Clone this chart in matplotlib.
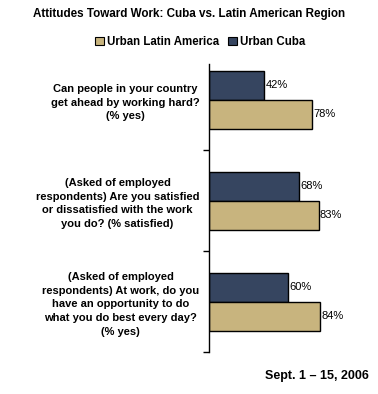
import matplotlib
matplotlib.use('Agg')
from matplotlib import pyplot as plt
from matplotlib.patches import Patch

plt.rcParams['font.family'] = ['Liberation Sans', 'DejaVu Sans']

questions = [
    'Can people in your country\nget ahead by working hard?\n(% yes)',
    '(Asked of employed\nrespondents) Are you satisfied\nor dissatisfied with the work\nyou do? (% satisfied)',
    '(Asked of employed\nrespondents) At work, do you\nhave an opportunity to do\nwhat you do best every day?\n(% yes)',
]
cuba = [42, 68, 60]
latin = [78, 83, 84]

cuba_color = '#364560'
latin_color = '#C8B47E'

fig = plt.figure(figsize=(3.78, 3.94), dpi=100)
ax = fig.add_axes([209 / 378, 1 - 352 / 394, 132 / 378, (352 - 64) / 394])

pos = list(range(len(questions)))
h = 0.287
ax.barh([p - h / 2 for p in pos], cuba, height=h, color=cuba_color,
        edgecolor='black', linewidth=1)
ax.barh([p + h / 2 for p in pos], latin, height=h, color=latin_color,
        edgecolor='black', linewidth=1)

for p, c, l in zip(pos, cuba, latin):
    ax.text(c + 1, p - h / 2, '{}%'.format(c), va='center', ha='left', fontsize=8)
    ax.text(l + 1, p + h / 2, '{}%'.format(l), va='center', ha='left', fontsize=8)

ax.set_xlim(0, 100)
ax.set_ylim(2.5, -0.356)
ax.set_xticks([])
ax.set_yticks(pos)
ax.set_yticklabels(questions, fontsize=8, fontweight='bold',
                   multialignment='center', linespacing=1.45)
ax.tick_params(axis='y', which='major', length=0, pad=7)
ax.set_yticks([0.5, 1.5, 2.5], minor=True)
ax.tick_params(axis='y', which='minor', length=4, width=1, direction='out')
for side in ['top', 'right', 'bottom']:
    ax.spines[side].set_visible(False)
ax.spines['left'].set_linewidth(1)

fig.text(189 / 378, 1 - 14 / 394, 'Attitudes Toward Work: Cuba vs. Latin American Region',
         ha='center', va='center', fontsize=8.4, fontweight='bold')

handles = [Patch(facecolor=latin_color, edgecolor='black', linewidth=0.8),
           Patch(facecolor=cuba_color, edgecolor='black', linewidth=0.8)]
fig.legend(handles, ['Urban Latin America', 'Urban Cuba'], loc='center',
           bbox_to_anchor=(200 / 378, 1 - 42 / 394), ncol=2, frameon=False,
           prop={'size': 8.3, 'weight': 'bold'}, handlelength=0.8, handleheight=0.8,
           handletextpad=0.2, columnspacing=0.8, borderaxespad=0)

fig.text(369 / 378, 1 - 376 / 394, 'Sept. 1 \u2013 15, 2006', ha='right', va='center',
         fontsize=9, fontweight='bold')

fig.savefig('out.png', dpi=100)
